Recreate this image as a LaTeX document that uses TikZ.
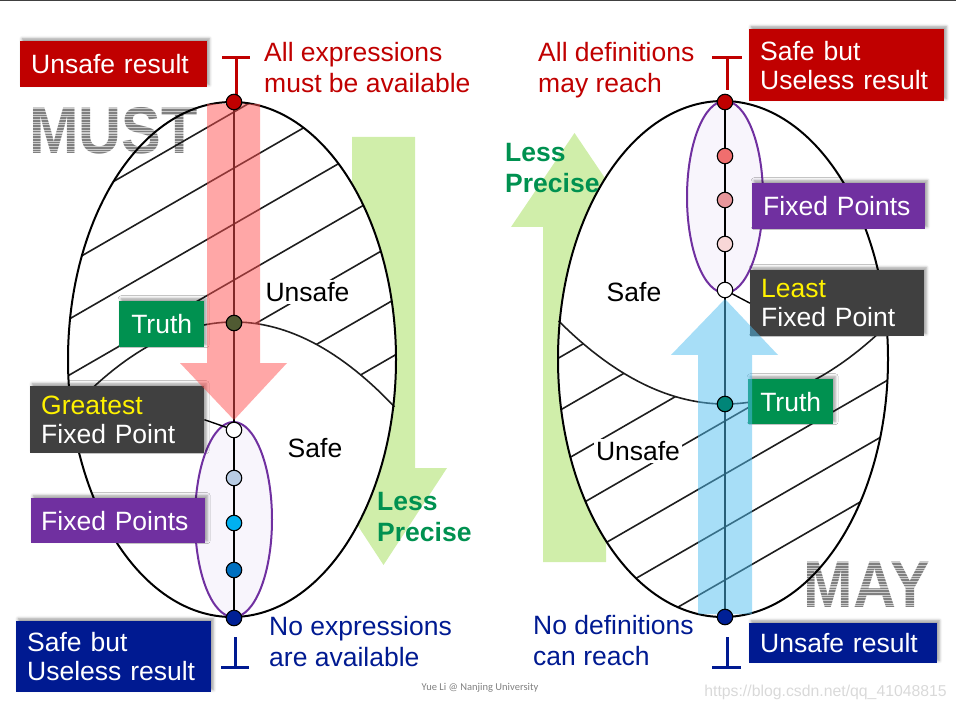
\documentclass[tikz,border=0pt]{standalone}
\usepackage{fontspec}
\setmainfont{Liberation Sans}
\newfontfamily\wmfont{Carlito}
\usetikzlibrary{shadows.blur}
\definecolor{cred}{RGB}{192,0,0}
\definecolor{cnavy}{RGB}{0,26,145}
\definecolor{cpurple}{RGB}{112,48,160}
\definecolor{cdgray}{RGB}{64,64,64}
\definecolor{cgreen}{RGB}{0,145,80}
\definecolor{clgreen}{RGB}{208,238,170}
\definecolor{cpink}{RGB}{255,80,80}
\definecolor{cblue}{RGB}{80,190,240}
\definecolor{clav}{RGB}{248,245,252}
\definecolor{chatch}{RGB}{30,30,30}
\definecolor{cbigtxt}{RGB}{128,128,128}
\newcommand\fsb{\fontsize{26.5}{29}\selectfont}
\newcommand\fst{\fontsize{26.5}{31}\selectfont}
\newcommand\bigword[1]{\scalebox{0.9}[1]{\fontsize{66}{70}\selectfont\bfseries #1}}
\begin{document}
\begin{tikzpicture}[x=1pt,y=-1pt,
  hatchline/.style={chatch, line width=1.6pt},
  ellline/.style={black, line width=2pt},
  fpell/.style={fill=clav, draw=cpurple, line width=2pt},
  box/.style={font=\fsb, text=white, align=left, anchor=north west, inner xsep=11pt, inner ysep=0pt,
     blur shadow={shadow xshift=2pt, shadow yshift=2.5pt, shadow blur radius=3pt, shadow opacity=40}},
  lbl/.style={font=\fst, inner sep=0pt, align=left, anchor=west},
  region/.style={font=\fst, inner sep=2pt, fill=white},
  dot/.style={circle, draw=black, line width=1.1pt, minimum size=15.5pt, inner sep=0pt},
  topbot/.style={line width=3pt},
  bigtxt/.style={inner sep=0pt, text=cbigtxt},
  stripe/.style={white, line width=1.1pt, opacity=0.6}
]
\useasboundingbox (0,0) rectangle (956,711);
% top rule
\draw[cdgray, line width=1.5pt] (0,0.5) -- (956,0.5);

% green "less precise" arrows
\fill[clgreen] (352,137) -- (415,137) -- (415,468) -- (447,468) -- (383.5,565) -- (320,468) -- (352,468) -- cycle;
\fill[clgreen] (543,562) -- (606,562) -- (606,227) -- (638,227) -- (574.5,133) -- (511,227) -- (543,227) -- cycle;

% ellipse fills
\fill[white] (232,359.5) ellipse [x radius=164, y radius=257.5];
\fill[white] (723,359) ellipse [x radius=165, y radius=258];

% MUST / MAY words (striped grey lettering)
\node[bigtxt] (must) at (113.5,131) {\bigword{MUST}};
\node[bigtxt] (may) at (867,585) {\bigword{MAY}};
\foreach \yy in {106,108.7,...,157}{
  \draw[stripe] (22,\yy) -- (204,\yy);
}
\foreach \yy in {560,562.7,...,611}{
  \draw[stripe] (796,\yy) -- (938,\yy);
}

% MUST hatching (unsafe region above truth curve)
\begin{scope}
  \clip (232,359.5) ellipse [x radius=164, y radius=257.5];
  \clip plot[domain=60:400,samples=60] (\x,{322+(0.0574*(\x-234))^2}) -- (400,0) -- (60,0) -- cycle;
  \foreach \cc in {112,168,...,448}{
    \draw[hatchline] (40,{\cc+0.577*194}) -- (430,{\cc-0.577*196});
  }
\end{scope}
\draw[hatchline] plot[domain=70.3:394.5,samples=60] (\x,{322+(0.0574*(\x-234))^2});
\draw[ellline] (232,359.5) ellipse [x radius=164, y radius=257.5];

% MAY hatching (unsafe region below truth curve)
\begin{scope}
  \clip (723,359) ellipse [x radius=165, y radius=258];
  \clip plot[domain=550:900,samples=60] (\x,{404-(0.05477*(\x-725))^2}) -- (900,700) -- (550,700) -- cycle;
  \foreach \cc in {262,315,...,633}{
    \draw[hatchline] (540,{\cc+0.577*185}) -- (910,{\cc-0.577*185});
  }
\end{scope}
\draw[hatchline] plot[domain=558.5:887,samples=60] (\x,{404-(0.05477*(\x-725))^2});
\draw[ellline] (723,359) ellipse [x radius=165, y radius=258];

% fixed point ellipses
\draw[fpell] (233.5,519.5) ellipse [x radius=38.5, y radius=97.5];
\draw[fpell] (725,197) ellipse [x radius=38, y radius=96];

% top / bottom symbols
\draw[cred, topbot] (222,58) -- (250,58) (236,58) -- (236,98);
\draw[cred, topbot] (712,58) -- (742,58) (727,58) -- (727,90);
\draw[cnavy, topbot] (221,667) -- (249,667) (235,637) -- (235,667);
\draw[cnavy, topbot] (712,667) -- (741,667) (727,637) -- (727,667);

% region labels
\node[region] (mu) at (307.5,292) {Unsafe};
\node[region, fill=none] (ms) at (315,448) {Safe};
\node[region, fill=none] (ys) at (634,292) {Safe};
\node[region] (yu) at (638,451) {Unsafe};

% free texts
\node[lbl, text=cred] (t1) at (264,67.5) {All expressions\\must be available};
\node[lbl, text=cred] (t2) at (538,70.5) {All definitions\\may reach};
\node[lbl, text=cnavy] (t3) at (269,642) {No expressions\\are available};
\node[lbl, text=cnavy] (t4) at (533,641) {No definitions\\can reach};
\node[lbl, text=cgreen, font=\fst\bfseries] (lp1) at (377,517.5) {Less\\Precise};
\node[lbl, text=cgreen, font=\fst\bfseries] (lp2) at (505,168.5) {Less\\Precise};

% boxes
\node[box, fill=cred, text width=165pt, minimum height=46pt] (b1) at (20,41) {Unsafe result};
\node[box, fill=cgreen, text width=63pt, minimum height=46pt, align=center, inner xsep=11pt] (b2) at (119,301) {Truth};
\node[box, fill=cdgray, text width=152pt, minimum height=67pt] (b3) at (30,386) {{\color{yellow}Greatest}\\Fixed Point};
\node[box, fill=cpurple, text width=154pt, minimum height=45pt, inner xsep=10pt] (b4) at (31,498) {Fixed Points};
\node[box, fill=cnavy, text width=173pt, minimum height=71pt] (b5) at (16,621) {Safe but\\Useless result};
\node[box, fill=cred, text width=173pt, minimum height=72pt] (b6) at (749,29) {Safe but\\Useless result};
\node[box, fill=cpurple, text width=151pt, minimum height=46pt] (b7) at (752,183) {Fixed Points};
\node[box, fill=cdgray, text width=152pt, minimum height=66pt] (b8) at (750,270) {{\color{yellow}Least}\\Fixed Point};
\node[box, fill=cgreen, text width=63pt, minimum height=45pt, align=center] (b9) at (748,379) {Truth};
\node[box, fill=cnavy, text width=166pt, minimum height=40pt] (b10) at (749,623) {Unsafe result};

% dot positions
\coordinate (mtop) at (234,102);
\coordinate (mtruth) at (234,323);
\coordinate (mgfp) at (234,430);
\coordinate (mf1) at (234,478);
\coordinate (mf2) at (234,523);
\coordinate (mf3) at (234,570);
\coordinate (mbot) at (234,618);
\coordinate (ytop) at (725,102);
\coordinate (yf1) at (725,156);
\coordinate (yf2) at (725,200);
\coordinate (yf3) at (725,244);
\coordinate (ylfp) at (725,290);
\coordinate (ytruth) at (725,404);
\coordinate (ybot) at (725,617);

% vertical chains
\draw[black, line width=1.1pt] (mtop) -- (mbot);
\draw[black, line width=1.1pt] (ytop) -- (ybot);

% translucent big arrows
\fill[cpink, opacity=0.5] (207,104) -- (260,104) -- (260,363) -- (287,363) -- (234,420) -- (180,363) -- (207,363) -- cycle;
\fill[cblue, opacity=0.5] (698,614) -- (752,614) -- (752,355) -- (778,355) -- (725,299) -- (671,355) -- (698,355) -- cycle;

% pointer lines
\draw[black, line width=1.4pt] (b3.east) -- (mgfp);
\draw[black, line width=1.4pt] (ylfp) -- (b8.west);

% dots
\node[dot, fill=cred] (dmtop) at (mtop) {};
\node[dot, fill={rgb,255:red,80;green,90;blue,50}] (dmtruth) at (mtruth) {};
\node[dot, fill=white] (dmgfp) at (mgfp) {};
\node[dot, fill={rgb,255:red,184;green,204;blue,228}] (dmf1) at (mf1) {};
\node[dot, fill={rgb,255:red,0;green,176;blue,240}] (dmf2) at (mf2) {};
\node[dot, fill={rgb,255:red,0;green,112;blue,192}] (dmf3) at (mf3) {};
\node[dot, fill={rgb,255:red,0;green,32;blue,150}] (dmbot) at (mbot) {};
\node[dot, fill=cred] (dytop) at (ytop) {};
\node[dot, fill={rgb,255:red,240;green,110;blue,110}] (dyf1) at (yf1) {};
\node[dot, fill={rgb,255:red,232;green,150;blue,155}] (dyf2) at (yf2) {};
\node[dot, fill={rgb,255:red,248;green,215;blue,215}] (dyf3) at (yf3) {};
\node[dot, fill=white] (dylfp) at (ylfp) {};
\node[dot, fill={rgb,255:red,0;green,133;blue,120}] (dytruth) at (ytruth) {};
\node[dot, fill={rgb,255:red,0;green,32;blue,150}] (dybot) at (ybot) {};

% watermarks
\node[font=\wmfont\fontsize{10.5}{12}\selectfont, text=gray, inner sep=0pt] (wm1) at (480,688) {Yue Li @ Nanjing University};
\node[font=\fontsize{15.8}{18}\selectfont, text=gray!30, anchor=east, inner sep=0pt] (wm2) at (947,692) {https://blog.csdn.net/qq\_41048815};
\end{tikzpicture}
\end{document}
